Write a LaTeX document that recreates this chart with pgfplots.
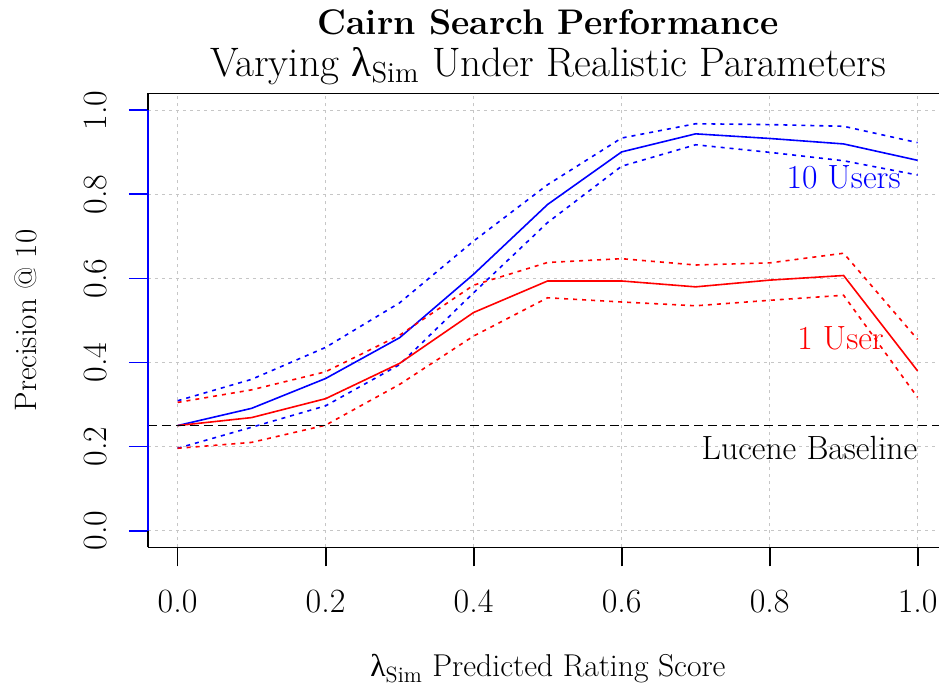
\documentclass[border=0pt]{standalone}
\usepackage{pgfplots}
\pgfplotsset{compat=1.18}
\usepackage{fontspec}
\newfontfamily\dv{Liberation Serif}
\newcommand{\lam}{{\dv λ}}
\newcommand{\fs}[1]{\fontsize{#1}{1.2\dimexpr#1\relax}\selectfont}

\pgfplotstableread{
x    bm    bu    bl    rm    ru    rl
0.0  0.250 0.309 0.196 0.250 0.305 0.196
0.1  0.291 0.360 0.246 0.269 0.335 0.210
0.2  0.362 0.436 0.297 0.314 0.378 0.251
0.3  0.459 0.542 0.395 0.398 0.465 0.348
0.4  0.610 0.689 0.566 0.519 0.584 0.463
0.5  0.776 0.823 0.733 0.594 0.638 0.554
0.6  0.901 0.934 0.867 0.594 0.647 0.544
0.7  0.944 0.968 0.918 0.580 0.632 0.535
0.8  0.933 0.966 0.900 0.596 0.637 0.548
0.9  0.920 0.962 0.880 0.607 0.660 0.560
1.0  0.881 0.923 0.846 0.380 0.455 0.317
}\data

\begin{document}
\begin{tikzpicture}
\begin{axis}[
  at={(0,0)}, anchor=south west,
  scale only axis, width=395.5pt, height=227pt,
  xmin=-0.04, xmax=1.0289, ymin=-0.04, ymax=1.04,
  clip=false,
  axis x line*=bottom, axis y line*=left,
  x axis line style={-, black, line width=0.9pt},
  y axis line style={draw=none},
  xtick={0,0.2,0.4,0.6,0.8,1}, ytick={0,0.2,0.4,0.6,0.8,1},
  minor tick num=0,
  tick align=outside, major tick length=9.5pt,
  xtick style={black, line width=0.9pt},
  ytick style={blue, line width=0.9pt},
  grid=major,
  major grid style={gray!45, line width=0.55pt, dash pattern=on 1.5pt off 2pt},
  /pgf/number format/assume math mode=true,
  /pgf/number format/.cd, fixed, fixed zerofill, precision=1, /pgfplots/.cd,
  ticklabel style={font=\fs{17pt}},
  xticklabel style={anchor=north, inner sep=0pt},
  xticklabel shift=11.5pt,
  yticklabel style={rotate=90, anchor=south, inner sep=0pt},
  yticklabel shift=11pt,
  xlabel={\lam\textsubscript{Sim} Predicted Rating Score},
  xlabel style={font=\fs{15.8pt}, at={(axis description cs:0.5057,0)}, anchor=base, yshift=-64.7pt},
  ylabel={Precision @ 10},
  ylabel style={font=\fs{15.5pt}, at={(axis description cs:-0.1407,0.5)}, anchor=base},
]
\addplot[blue, line width=0.8pt, dash pattern=on 2pt off 2.5pt] table[x=x,y=bu]{\data};
\addplot[blue, line width=0.8pt, dash pattern=on 2pt off 2.5pt] table[x=x,y=bl]{\data};
\addplot[blue, line width=0.8pt] table[x=x,y=bm]{\data};
\addplot[red, line width=0.8pt, dash pattern=on 2pt off 2.5pt] table[x=x,y=ru]{\data};
\addplot[red, line width=0.8pt, dash pattern=on 2pt off 2.5pt] table[x=x,y=rl]{\data};
\addplot[red, line width=0.8pt] table[x=x,y=rm]{\data};
\addplot[black, line width=0.8pt, dash pattern=on 4.5pt off 2.5pt] coordinates {(-0.04,0.25) (1.0289,0.25)};

\draw[black, line width=0.9pt] (rel axis cs:0,0) -- (rel axis cs:0,1) -- (rel axis cs:1,1);
\draw[blue, line width=0.9pt] (axis cs:-0.04,0) -- (axis cs:-0.04,1);

\node[anchor=base east, inner sep=0pt, text=blue, font=\fs{16.8pt}] at (axis cs:0.9776,0.813) {10 Users};
\node[anchor=base east, inner sep=0pt, text=red, font=\fs{16.8pt}] at (axis cs:0.955,0.430) {1 User};
\node[anchor=base east, inner sep=0pt, font=\fs{16.8pt}] at (axis cs:1.0,0.1687) {Lucene Baseline};

\node[anchor=base, inner sep=0pt, font=\fs{17.8pt}\bfseries] at ([yshift=29.7pt]rel axis cs:0.5057,1) {Cairn Search Performance};
\node[anchor=base, inner sep=0pt, font=\fs{20.6pt}] at ([yshift=8.65pt]rel axis cs:0.5057,1) {Varying \lam\textsubscript{Sim} Under Realistic Parameters};
\end{axis}
\pgfresetboundingbox
\useasboundingbox (-74pt,-70.25pt) rectangle (395.5pt,273.75pt);
\end{tikzpicture}
\end{document}
